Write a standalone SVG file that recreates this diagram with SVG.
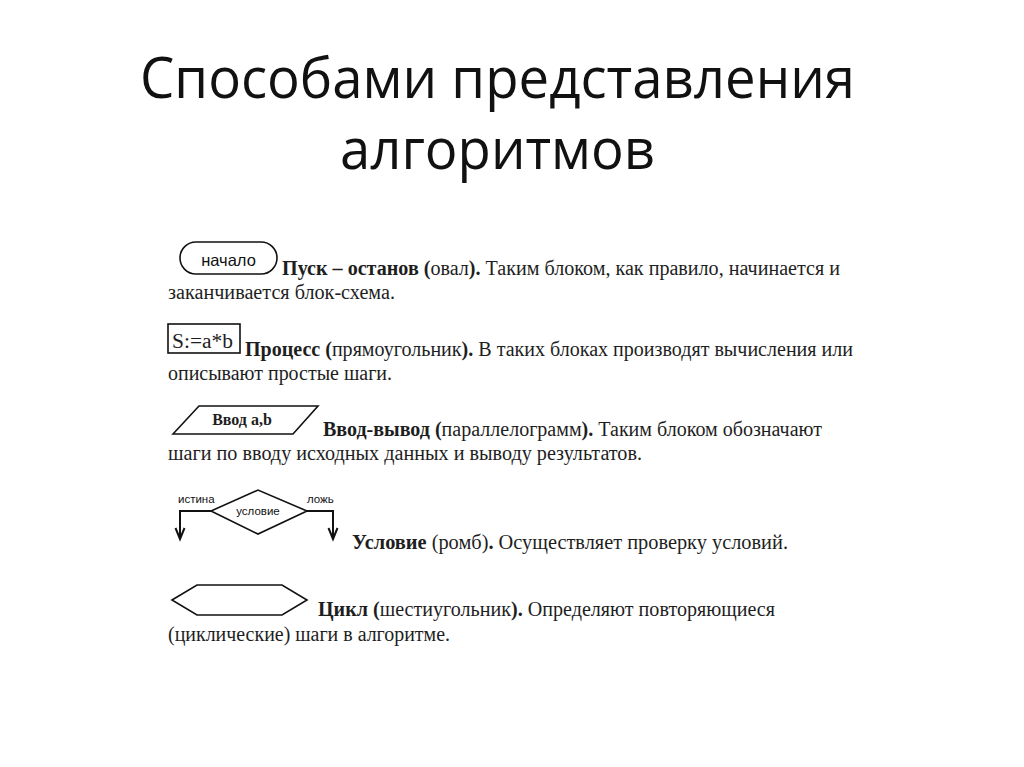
<svg xmlns="http://www.w3.org/2000/svg" width="1024" height="767" viewBox="0 0 1024 767">
<defs>
<style>
.title{font-family:"Open Sans","Liberation Sans",sans-serif;font-size:56px;fill:#111}
.body{font-family:"Liberation Serif","DejaVu Serif",serif;font-size:20px;fill:#1e1e1e}
.small{font-family:"Liberation Serif","DejaVu Serif",serif;font-size:16px;font-weight:bold;fill:#1e1e1e}
.b{font-weight:bold}
.shape{fill:none;stroke:#111;stroke-width:1.6}
.lbl{font-family:"Liberation Sans","DejaVu Sans",sans-serif;fill:#111}
.conn{fill:none;stroke:#111;stroke-width:2}
</style>
</defs>
<rect width="1024" height="767" fill="#ffffff"/>
<g id="title">
<text class="title" x="140" y="98" textLength="715" lengthAdjust="spacingAndGlyphs">Способами представления</text>
<text class="title" x="340" y="169" textLength="315" lengthAdjust="spacingAndGlyphs">алгоритмов</text>
</g>
<g id="oval">
<rect class="shape" x="180" y="242" width="97" height="32" rx="16"/>
<text class="lbl" x="228.5" y="266" font-size="16.5" text-anchor="middle">начало</text>
</g>
<g id="text-oval">
<text class="body" x="282" y="275" textLength="558" lengthAdjust="spacingAndGlyphs"><tspan class="b">Пуск – останов (</tspan>овал<tspan class="b">).</tspan> Таким блоком, как правило, начинается и</text>
<text class="body" x="168" y="299" textLength="227" lengthAdjust="spacingAndGlyphs">заканчивается блок-схема.</text>
</g>
<g id="process">
<rect class="shape" x="168" y="324" width="72" height="29" stroke-width="1.3"/>
<text class="body" x="172" y="348" textLength="61" lengthAdjust="spacingAndGlyphs">S:=a*b</text>
</g>
<g id="text-process">
<text class="body" x="245" y="356" textLength="608" lengthAdjust="spacingAndGlyphs"><tspan class="b">Процесс (</tspan>прямоугольник<tspan class="b">).</tspan> В таких блоках производят вычисления или</text>
<text class="body" x="168" y="380" textLength="224" lengthAdjust="spacingAndGlyphs">описывают простые шаги.</text>
</g>
<g id="io">
<polygon class="shape" points="173,434 199,406 318,406 293,434"/>
<text class="small" x="242" y="425" text-anchor="middle">Ввод a,b</text>
</g>
<g id="text-io">
<text class="body" x="323" y="436" textLength="499" lengthAdjust="spacingAndGlyphs"><tspan class="b">Ввод-вывод (</tspan>параллелограмм<tspan class="b">).</tspan> Таким блоком обозначают</text>
<text class="body" x="168" y="460" textLength="474" lengthAdjust="spacingAndGlyphs">шаги по вводу исходных данных и выводу результатов.</text>
</g>
<g id="condition">
<polygon class="shape" points="211,511 258,490 307,511 258,534" stroke-width="2"/>
<text class="lbl" x="258" y="515" font-size="11.5" text-anchor="middle">условие</text>
<text class="lbl" x="178" y="503" font-size="11.5">истина</text>
<text class="lbl" x="307" y="503" font-size="11.5">ложь</text>
</g>
<g id="connectors">
<polyline class="conn" points="211,511 180,511 180,539"/>
<polyline class="conn" points="175.5,528 180,539 184.5,528"/>
<polyline class="conn" points="307,511 333,511 333,539"/>
<polyline class="conn" points="328.5,528 333,539 337.5,528"/>
</g>
<g id="text-condition">
<text class="body" x="352" y="549" textLength="436" lengthAdjust="spacingAndGlyphs"><tspan class="b">Условие </tspan>(ромб)<tspan class="b">.</tspan>  Осуществляет проверку условий.</text>
</g>
<g id="loop">
<polygon class="shape" points="172,600 197,585 282,585 307,600 282,615 197,615" stroke-width="1.8"/>
</g>
<g id="text-loop">
<text class="body" x="318" y="616" textLength="457" lengthAdjust="spacingAndGlyphs"><tspan class="b">Цикл (</tspan>шестиугольник<tspan class="b">).</tspan> Определяют повторяющиеся</text>
<text class="body" x="168" y="641" textLength="282" lengthAdjust="spacingAndGlyphs">(циклические) шаги в алгоритме.</text>
</g>
</svg>
